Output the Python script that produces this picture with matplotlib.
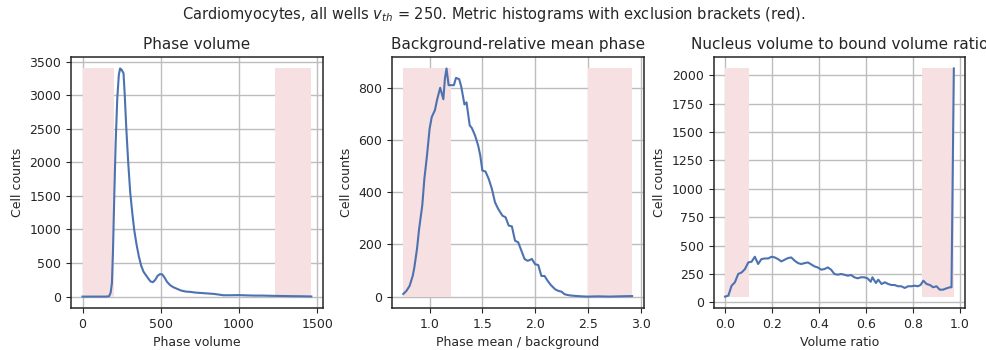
import numpy as np
import matplotlib
matplotlib.use('Agg')
import matplotlib.pyplot as plt

# Гистограммы метрик
vol_x = [0, 50, 100, 150, 170, 180, 188, 195, 203, 212, 222, 232, 240, 250, 262, 270,
         280, 292, 305, 318, 330, 345, 360, 375, 390, 405, 420, 435, 450, 465, 480,
         495, 510, 525, 540, 560, 580, 600, 630, 660, 690, 720, 750, 780, 810, 840,
         870, 900, 950, 1000, 1050, 1100, 1150, 1200, 1250, 1300, 1350, 1400, 1462]
vol_y = [0, 0, 0, 0, 5, 60, 200, 700, 1500, 2300, 2950, 3300, 3400, 3380, 3330, 3000,
         2500, 2000, 1550, 1250, 1000, 780, 600, 460, 370, 320, 270, 225, 215, 250, 310,
         335, 330, 280, 220, 170, 140, 120, 90, 75, 70, 60, 55, 50, 45, 40,
         30, 20, 20, 22, 18, 15, 15, 12, 10, 8, 6, 5, 2]

ph_x = [0.75, 0.78, 0.81, 0.84, 0.855, 0.88, 0.90, 0.93, 0.95, 0.975, 1.0, 1.02, 1.05,
        1.07, 1.10, 1.13, 1.145, 1.16, 1.18, 1.20, 1.23, 1.25, 1.28, 1.30, 1.33, 1.35,
        1.38, 1.40, 1.43, 1.46, 1.48, 1.50, 1.53, 1.56, 1.59, 1.62, 1.65, 1.69, 1.72,
        1.75, 1.78, 1.81, 1.84, 1.87, 1.90, 1.93, 1.97, 2.0, 2.03, 2.06, 2.09, 2.12,
        2.15, 2.19, 2.22, 2.25, 2.28, 2.31, 2.34, 2.37, 2.44, 2.5, 2.6, 2.7, 2.8, 2.92]
ph_y = [10, 22, 41, 80, 112, 182, 259, 349, 451, 541, 644, 688, 714,
        753, 800, 756, 836, 874, 810, 810, 810, 838, 833, 804, 736, 744,
        656, 646, 618, 579, 541, 483, 479, 451, 413, 361, 336, 310, 304,
        272, 269, 214, 208, 176, 144, 137, 144, 124, 121, 79, 79, 60,
        44, 28, 22, 19, 9, 6, 4, 3, 1, 0, 1, 0, 1, 2]

rat_x = [0.0, 0.014, 0.028, 0.042, 0.056, 0.071, 0.085, 0.099, 0.113, 0.127, 0.141,
         0.155, 0.169, 0.184, 0.198, 0.212, 0.226, 0.240, 0.254, 0.268, 0.282, 0.297,
         0.311, 0.325, 0.339, 0.353, 0.367, 0.381, 0.395, 0.410, 0.424, 0.438, 0.452,
         0.466, 0.480, 0.494, 0.508, 0.523, 0.537, 0.551, 0.565, 0.579, 0.593, 0.607,
         0.621, 0.628, 0.643, 0.653, 0.667, 0.681, 0.695, 0.709, 0.723, 0.737, 0.751,
         0.766, 0.780, 0.794, 0.808, 0.822, 0.833, 0.845, 0.859, 0.873, 0.887, 0.901,
         0.915, 0.929, 0.944, 0.958, 0.965, 0.975]
rat_y = [50, 58, 146, 176, 249, 263, 293, 351, 357, 401, 337,
         380, 386, 386, 401, 395, 380, 360, 375, 389, 395, 366,
         345, 337, 345, 351, 334, 316, 307, 287, 293, 307, 287,
         249, 243, 249, 243, 234, 240, 220, 211, 220, 220, 211,
         181, 220, 170, 199, 161, 176, 161, 152, 152, 141, 141,
         126, 141, 141, 146, 141, 152, 190, 161, 152, 132, 141,
         111, 111, 123, 132, 132, 2060]

# Границы исключения
brackets = [(200, 1230), (1.2, 2.5), (0.1, 0.84)]
titles = ['Phase volume', 'Background-relative mean phase',
          'Nucleus volume to bound volume ratio']
xlabels = ['Phase volume', 'Phase mean / background', 'Volume ratio']

plt.rcParams['font.family'] = 'DejaVu Sans'
plt.rcParams['font.size'] = 9
plt.rcParams['text.color'] = '#262626'
plt.rcParams['axes.labelcolor'] = '#262626'
plt.rcParams['xtick.color'] = '#262626'
plt.rcParams['ytick.color'] = '#262626'
plt.rcParams['axes.linewidth'] = 1.1
plt.rcParams['axes.edgecolor'] = '#262626'

fig = plt.figure(figsize=(9.87, 3.5), dpi=100)
lefts = [0.072, 0.397, 0.723]
datasets = [(vol_x, vol_y), (ph_x, ph_y), (rat_x, rat_y)]

for left, (x, y), (lo, hi), title, xl in zip(lefts, datasets, brackets, titles, xlabels):
    ax = fig.add_axes([left, 0.12, 0.255, 0.717])
    x = np.array(x)
    y = np.array(y)
    ax.fill_between([x.min(), lo], y.min(), y.max(), color='#f6e0e2', lw=0)
    ax.fill_between([hi, x.max()], y.min(), y.max(), color='#f6e0e2', lw=0)
    ax.plot(x, y, color='#4c72b0', lw=1.5)
    ax.grid(color='#bdbdbd', lw=1)
    ax.set_axisbelow(True)
    ax.set_title(title, fontsize=11)
    ax.set_xlabel(xl)
    ax.set_ylabel('Cell counts')

fig.suptitle('Cardiomyocytes, all wells $v_{th}$ = 250. Metric histograms with exclusion brackets (red).',
             fontsize=10.5, y=0.985)

fig.savefig('out.png', dpi=100)
